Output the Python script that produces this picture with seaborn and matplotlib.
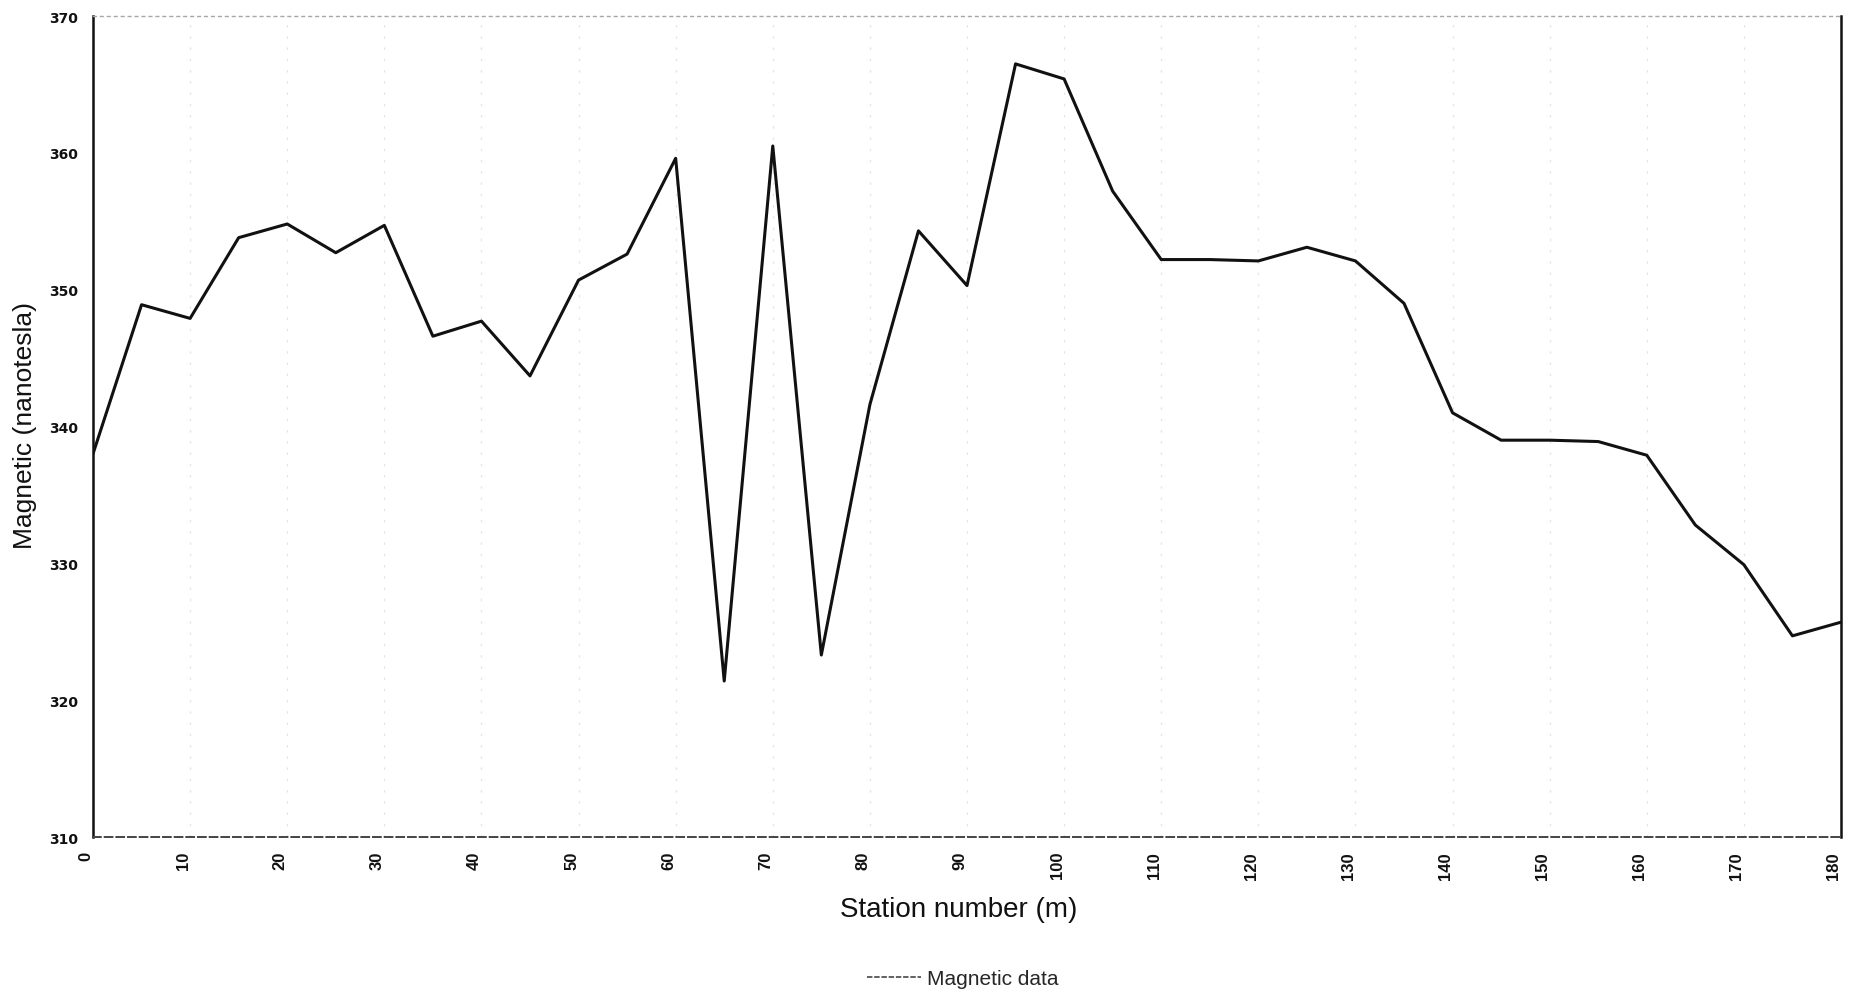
import matplotlib
matplotlib.use("Agg")
import matplotlib.pyplot as plt
import matplotlib.transforms as mtransforms
import seaborn as sns
import pandas as pd

# Data
station_m = [0, 5, 10, 15, 20, 25, 30, 35, 40, 45, 50, 55, 60, 65, 70, 75, 80, 85, 90,
             95, 100, 105, 110, 115, 120, 125, 130, 135, 140, 145, 150, 155, 160, 165,
             170, 175, 180]
magnetic_nt = [338.0, 348.9, 347.9, 353.8, 354.8, 352.7, 354.7, 346.6, 347.7, 343.7,
               350.7, 352.6, 359.6, 321.4, 360.5, 323.3, 341.6, 354.3, 350.3, 366.5,
               365.4, 357.2, 352.2, 352.2, 352.1, 353.1, 352.1, 349.0, 341.0, 339.0,
               339.0, 338.9, 337.9, 332.8, 329.9, 324.7, 325.7]
x_ticks = list(range(0, 181, 10))
y_ticks = [310, 320, 330, 340, 350, 360, 370]
series_name = "Magnetic data"

df = pd.DataFrame({"Station number (m)": station_m,
                   "Magnetic (nanotesla)": magnetic_nt,
                   "series": series_name})

sns.set_theme(style="white")
plt.rcParams["font.family"] = ["Liberation Sans", "DejaVu Sans"]

fig = plt.figure(figsize=(18.56, 9.95), dpi=100)
W, H = 1856, 995
L, R, T, B = 93, 1841, 17, 838
ax = fig.add_axes([L / W, 1 - B / H, (R - L) / W, (B - T) / H])

sns.lineplot(data=df, x="Station number (m)", y="Magnetic (nanotesla)", hue="series",
             palette=["#111111"], linewidth=2.2, ax=ax, legend=False)

ax.set_xlim(0, 180)
ax.set_ylim(310, 370)
ax.set_xticks(x_ticks)
ax.set_yticks(y_ticks)
ax.set_xticklabels([str(v) for v in x_ticks], rotation=90, fontsize=12,
                   fontweight="bold", family=["Liberation Sans", "DejaVu Sans"])
ax.set_yticklabels([str(v) for v in y_ticks], fontsize=10, fontweight="bold",
                   family=["DejaVu Sans"])
ax.tick_params(axis="both", length=0, colors="#111111")
ax.tick_params(axis="y", pad=11)
ax.tick_params(axis="x", pad=10)

shift = mtransforms.ScaledTranslation(-7 / 100, 0, fig.dpi_scale_trans)
for lab in ax.get_xticklabels():
    lab.set_transform(lab.get_transform() + shift)

# faint vertical grid like the scanned original
ax.grid(axis="x", color="#e4e4e4", linestyle=(0, (2, 7)), linewidth=0.9)
ax.grid(axis="y", visible=False)

for side in ["left", "right"]:
    ax.spines[side].set_color("#111111")
    ax.spines[side].set_linewidth(1.8)
ax.spines["top"].set_color("#a8a8a8")
ax.spines["top"].set_linewidth(1.0)
ax.spines["top"].set_linestyle((0, (2, 3)))
ax.spines["bottom"].set_color("#444444")
ax.spines["bottom"].set_linewidth(1.4)
ax.spines["bottom"].set_linestyle((0, (4, 2)))

ax.set_xlabel("Station number (m)", fontsize=20, color="#111111")
ax.xaxis.set_label_coords((959 - L) / (R - L), (B - 910) / (B - T))
ax.xaxis.label.set_va("center")
ax.set_ylabel("Magnetic (nanotesla)", fontsize=19, color="#111111")
ax.yaxis.set_label_coords((25 - L) / (R - L), (B - 426) / (B - T))
ax.yaxis.label.set_va("center")
ax.yaxis.label.set_ha("center")

handle = plt.Line2D([], [], color="#555555", linewidth=1.3, linestyle=(0, (3, 1)))
fig.legend([handle], [series_name], loc="center", bbox_to_anchor=(963 / W, 1 - 980 / H),
           frameon=False, fontsize=15, handlelength=2.6, handletextpad=0.3)

fig.savefig("out.png", dpi=100, facecolor="white")
